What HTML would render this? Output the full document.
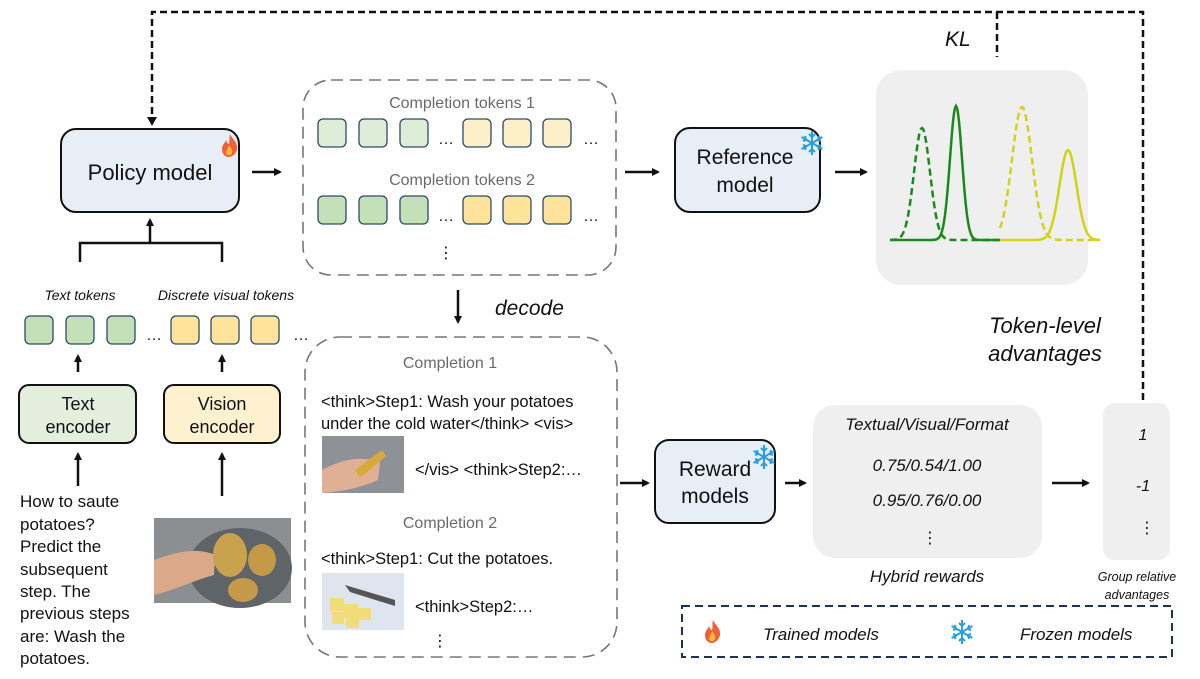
<!DOCTYPE html>
<html><head><meta charset="utf-8"><style>
html,body{margin:0;padding:0;background:#fff}
svg{display:block}
text{font-family:"Liberation Sans","DejaVu Sans",sans-serif;fill:#111}
.it{font-style:italic}
</style></head><body>
<svg width="1200" height="679" viewBox="0 0 1200 679" xmlns="http://www.w3.org/2000/svg">
<defs>
<marker id="ah" markerWidth="8" markerHeight="8" refX="6" refY="4" orient="auto" markerUnits="userSpaceOnUse"><path d="M0,0 L8,4 L0,8 z" fill="#111"/></marker>
<g id="flame"><path d="M8,0 C10,5 16,8 15,15 C14,21 9,23 7,23 C3,23 0,20 0,15 C0,11 3,9 4,6 C5,9 6,10 7,10 C8,7 7,3 8,0z" fill="#f0603a"/><path d="M7,11 C9,14 11,16 10,19 C9,22 5,22 4,19 C4,17 6,15 7,11z" fill="#fbb833"/></g>
<g id="snow" stroke="#2a9ee0" stroke-width="2" fill="none"><line x1="0" y1="-12" x2="0" y2="12"/><line x1="-10.4" y1="-6" x2="10.4" y2="6"/><line x1="-10.4" y1="6" x2="10.4" y2="-6"/><path d="M-3,-9 L0,-6 L3,-9 M-3,9 L0,6 L3,9 M-9,-2 L-6,-3 L-7,-7 M9,2 L6,3 L7,7 M-9,2 L-6,3 L-7,7 M9,-2 L6,-3 L7,-7"/></g>
</defs>

<!-- top dashed feedback -->
<g stroke="#111" stroke-width="2.5" fill="none" stroke-dasharray="7,4">
<polyline points="1143,400 1143,12 152,12 152,118"/>
<line x1="997" y1="12" x2="997" y2="57"/>
</g>
<path d="M147,117 L152,126 L157,117z" fill="#111"/>
<text x="945" y="46" font-size="21" class="it">KL</text>

<!-- Policy model -->
<rect x="61" y="129" width="178" height="83" rx="15" fill="#e7eef6" stroke="#111" stroke-width="2"/>
<text x="150" y="180" font-size="22" text-anchor="middle">Policy model</text>
<use href="#flame" x="222" y="134" transform="scale(1)"/>
<line x1="252" y1="172" x2="280" y2="172" stroke="#111" stroke-width="2.5" marker-end="url(#ah)"/>

<!-- bracket -->
<g stroke="#111" stroke-width="2.5" fill="none">
<polyline points="80,262 80,243 222,243 222,262"/>
<line x1="150" y1="243" x2="150" y2="220" marker-end="url(#ah)"/>
</g>
<text x="80" y="300" font-size="14" class="it" text-anchor="middle">Text tokens</text>
<text x="226" y="300" font-size="14" class="it" text-anchor="middle">Discrete visual tokens</text>
<g stroke="#2e4a6a" stroke-width="1.3">
<rect x="25" y="316" width="28" height="28" rx="5" fill="#c4e0b8"/>
<rect x="66" y="316" width="28" height="28" rx="5" fill="#c4e0b8"/>
<rect x="107" y="316" width="28" height="28" rx="5" fill="#c4e0b8"/>
<rect x="171" y="316" width="28" height="28" rx="5" fill="#fde49a"/>
<rect x="211" y="316" width="28" height="28" rx="5" fill="#fde49a"/>
<rect x="251" y="316" width="28" height="28" rx="5" fill="#fde49a"/>
</g>
<text x="146" y="340" font-size="16">…</text>
<text x="293" y="340" font-size="16">…</text>
<g stroke="#111" stroke-width="2.5">
<line x1="78" y1="372" x2="78" y2="356" marker-end="url(#ah)"/>
<line x1="222" y1="372" x2="222" y2="356" marker-end="url(#ah)"/>
<line x1="78" y1="486" x2="78" y2="454" marker-end="url(#ah)"/>
<line x1="222" y1="496" x2="222" y2="454" marker-end="url(#ah)"/>
</g>
<rect x="19" y="385" width="117" height="58" rx="10" fill="#e3efdc" stroke="#111" stroke-width="2"/>
<text x="78" y="410" font-size="18" text-anchor="middle">Text</text>
<text x="78" y="433" font-size="18" text-anchor="middle">encoder</text>
<rect x="164" y="385" width="116" height="58" rx="10" fill="#fdf1cf" stroke="#111" stroke-width="2"/>
<text x="222" y="410" font-size="18" text-anchor="middle">Vision</text>
<text x="222" y="433" font-size="18" text-anchor="middle">encoder</text>
<g font-size="17">
<text x="20" y="507">How to saute</text>
<text x="20" y="530">potatoes?</text>
<text x="20" y="552">Predict the</text>
<text x="20" y="575">subsequent</text>
<text x="20" y="597">step. The</text>
<text x="20" y="619">previous steps</text>
<text x="20" y="642">are: Wash the</text>
<text x="20" y="664">potatoes.</text>
</g>
<!-- potato image -->
<rect x="154" y="518" width="137" height="85" fill="#8b8f92"/>
<ellipse cx="240" cy="568" rx="52" ry="40" fill="#5f6468"/>
<path d="M154,560 C180,550 200,548 215,555 L214,575 C195,580 175,590 154,595z" fill="#d9a98a"/>
<ellipse cx="230" cy="555" rx="17" ry="22" fill="#c9a24e"/>
<ellipse cx="262" cy="560" rx="14" ry="16" fill="#c49a48"/>
<ellipse cx="243" cy="590" rx="15" ry="12" fill="#c49a48"/>

<!-- completion tokens box -->
<rect x="303" y="80" width="313" height="195" rx="28" fill="none" stroke="#777" stroke-width="1.6" stroke-dasharray="12,7"/>
<text x="462" y="108" font-size="16" fill="#777" text-anchor="middle" style="fill:#6a6a6a">Completion tokens 1</text>
<g stroke="#2e4a6a" stroke-width="1.3">
<rect x="318" y="119" width="28" height="28" rx="5" fill="#deedd7"/>
<rect x="359" y="119" width="28" height="28" rx="5" fill="#deedd7"/>
<rect x="400" y="119" width="28" height="28" rx="5" fill="#deedd7"/>
<rect x="463" y="119" width="28" height="28" rx="5" fill="#fdefc8"/>
<rect x="503" y="119" width="28" height="28" rx="5" fill="#fdefc8"/>
<rect x="543" y="119" width="28" height="28" rx="5" fill="#fdefc8"/>
<rect x="318" y="196" width="28" height="28" rx="5" fill="#c4e0b8"/>
<rect x="359" y="196" width="28" height="28" rx="5" fill="#c4e0b8"/>
<rect x="400" y="196" width="28" height="28" rx="5" fill="#c4e0b8"/>
<rect x="463" y="196" width="28" height="28" rx="5" fill="#fde49a"/>
<rect x="503" y="196" width="28" height="28" rx="5" fill="#fde49a"/>
<rect x="543" y="196" width="28" height="28" rx="5" fill="#fde49a"/>
</g>
<text x="438" y="144" font-size="16">…</text><text x="583" y="144" font-size="16">…</text>
<text x="438" y="221" font-size="16">…</text><text x="583" y="221" font-size="16">…</text>
<text x="462" y="185" font-size="16" text-anchor="middle" style="fill:#6a6a6a">Completion tokens 2</text>
<text x="438" y="258" font-size="16">⋮</text>

<line x1="625" y1="172" x2="658" y2="172" stroke="#111" stroke-width="2.5" marker-end="url(#ah)"/>
<rect x="675" y="128" width="145" height="84" rx="15" fill="#e7eef6" stroke="#111" stroke-width="2"/>
<text x="745" y="164" font-size="21" text-anchor="middle">Reference</text>
<text x="745" y="192" font-size="21" text-anchor="middle">model</text>
<use href="#snow" x="812" y="143"/>
<line x1="835" y1="172" x2="866" y2="172" stroke="#111" stroke-width="2.5" marker-end="url(#ah)"/>

<!-- distribution -->
<rect x="876" y="70" width="212" height="215" rx="25" fill="#efefef"/>
<g fill="none" stroke-width="2.5">
<path id="gd" stroke="#1a8a1a" stroke-dasharray="7,4"/>
<path id="gs" stroke="#1a8a1a"/>
<path id="yd" stroke="#d2d21a" stroke-dasharray="7,4"/>
<path id="ys" stroke="#d2d21a"/>
</g>
<script>
function g(id,mu,s,top,x0,x1){var b=240,d="";for(var x=x0;x<=x1;x+=1){var y=b-(b-top)*Math.exp(-Math.pow((x-mu)/s,2)/2);d+=(x==x0?"M":"L")+x+","+y.toFixed(1);}document.getElementById(id).setAttribute("d",d);}
g("gd",922,8,128,890,1000);g("gs",956,6,106,890,1000);g("yd",1022,10,107,1000,1100);g("ys",1068,8.5,150,1000,1100);
</script>

<text x="458" y="306" font-size="1" fill="#fff"> </text>
<line x1="458" y1="290" x2="458" y2="322" stroke="#111" stroke-width="2.5" marker-end="url(#ah)"/>
<text x="495" y="315" font-size="21" class="it">decode</text>
<text x="1045" y="333" font-size="22" class="it" text-anchor="middle">Token-level</text>
<text x="1045" y="361" font-size="22" class="it" text-anchor="middle">advantages</text>

<!-- completion box -->
<rect x="305" y="337" width="312" height="320" rx="35" fill="none" stroke="#777" stroke-width="1.6" stroke-dasharray="12,7"/>
<text x="450" y="368" font-size="16" text-anchor="middle" style="fill:#6a6a6a">Completion 1</text>
<text x="321" y="407" font-size="16.5">&lt;think&gt;Step1: Wash your potatoes</text>
<text x="321" y="429" font-size="16.5">under the cold water&lt;/think&gt; &lt;vis&gt;</text>
<rect x="322" y="436" width="82" height="57" fill="#8e9196"/>
<path d="M322,470 C340,460 360,455 380,462 L378,480 C360,488 340,492 322,493z" fill="#e0b096"/>
<path d="M355,470 L382,450 L386,456 L360,478z" fill="#d6ab3a"/>
<text x="415" y="475" font-size="16.5">&lt;/vis&gt; &lt;think&gt;Step2:…</text>
<text x="450" y="528" font-size="16" text-anchor="middle" style="fill:#6a6a6a">Completion 2</text>
<text x="321" y="564" font-size="16.5">&lt;think&gt;Step1: Cut the potatoes.</text>
<rect x="322" y="573" width="82" height="57" fill="#dfe5ef"/>
<path d="M345,585 L395,600 L395,606 L350,592z" fill="#555"/>
<g fill="#f1dc7a"><rect x="330" y="598" width="14" height="13"/><rect x="344" y="604" width="14" height="14"/><rect x="332" y="612" width="12" height="12"/><rect x="358" y="608" width="13" height="12"/><rect x="346" y="618" width="13" height="10"/></g>
<text x="415" y="612" font-size="16.5">&lt;think&gt;Step2:…</text>
<text x="432" y="646" font-size="16">⋮</text>

<line x1="620" y1="483" x2="648" y2="483" stroke="#111" stroke-width="2.5" marker-end="url(#ah)"/>
<rect x="655" y="440" width="120" height="83" rx="14" fill="#e7eef6" stroke="#111" stroke-width="2"/>
<text x="715" y="476" font-size="21" text-anchor="middle">Reward</text>
<text x="715" y="503" font-size="21" text-anchor="middle">models</text>
<use href="#snow" x="764" y="457"/>
<line x1="785" y1="483" x2="805" y2="483" stroke="#111" stroke-width="2.5" marker-end="url(#ah)"/>

<rect x="813" y="405" width="229" height="153" rx="22" fill="#efefef"/>
<text x="927" y="430" font-size="17" class="it" text-anchor="middle">Textual/Visual/Format</text>
<text x="927" y="471" font-size="17" class="it" text-anchor="middle">0.75/0.54/1.00</text>
<text x="927" y="506" font-size="17" class="it" text-anchor="middle">0.95/0.76/0.00</text>
<text x="922" y="543" font-size="16">⋮</text>
<text x="927" y="582" font-size="17" class="it" text-anchor="middle">Hybrid rewards</text>

<line x1="1052" y1="483" x2="1088" y2="483" stroke="#111" stroke-width="2.5" marker-end="url(#ah)"/>
<rect x="1103" y="403" width="67" height="157" rx="12" fill="#efefef"/>
<text x="1143" y="440" font-size="16" class="it" text-anchor="middle">1</text>
<text x="1143" y="491" font-size="16" class="it" text-anchor="middle">-1</text>
<text x="1139" y="533" font-size="16">⋮</text>
<text x="1137" y="581" font-size="12.5" class="it" text-anchor="middle">Group relative</text>
<text x="1137" y="599" font-size="12.5" class="it" text-anchor="middle">advantages</text>

<rect x="682" y="606" width="490" height="51" fill="none" stroke="#1f3350" stroke-width="2" stroke-dasharray="8,5"/>
<use href="#flame" x="705" y="620"/>
<text x="763" y="640" font-size="17" class="it">Trained models</text>
<use href="#snow" x="962" y="632"/>
<text x="1020" y="640" font-size="17" class="it">Frozen models</text>
</svg>
</body></html>
